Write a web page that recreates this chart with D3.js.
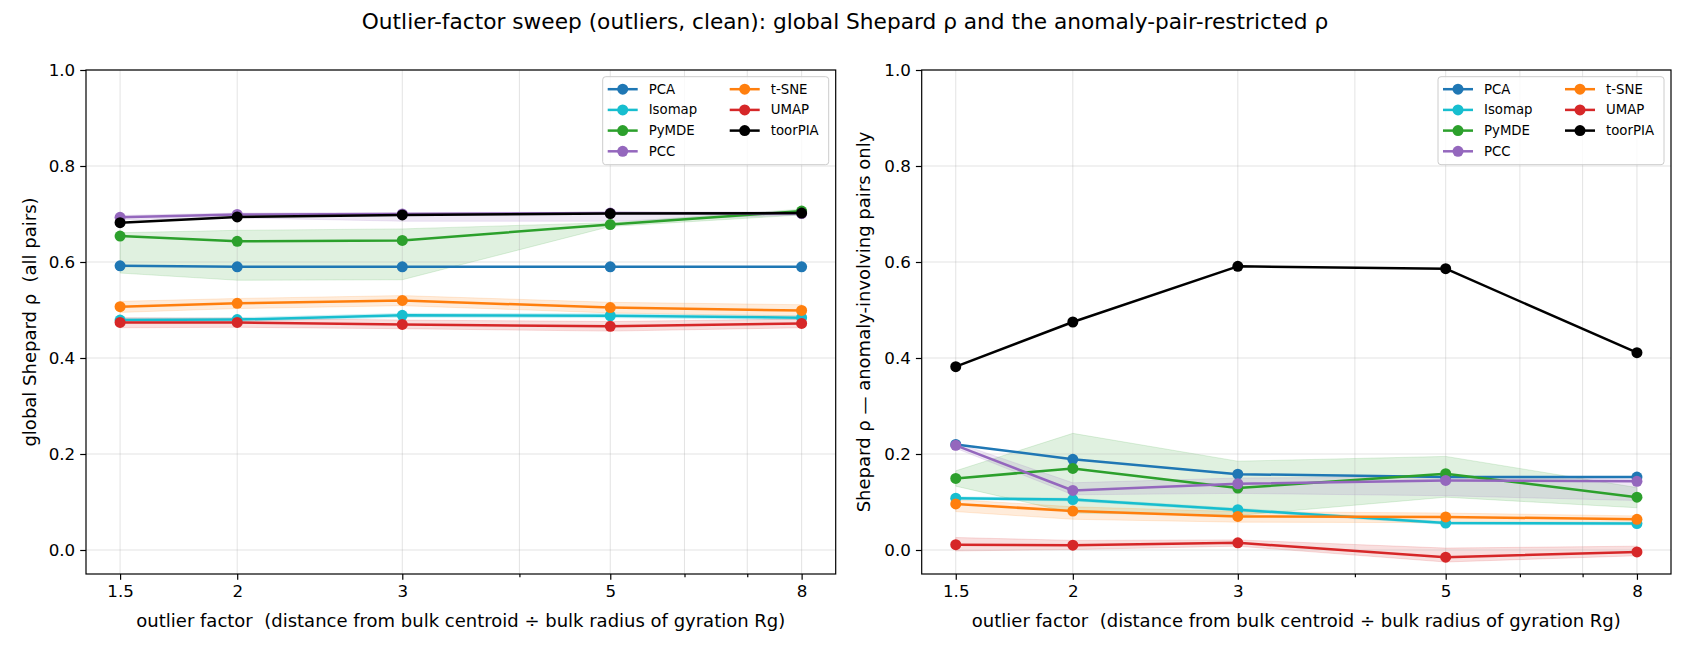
<!DOCTYPE html>
<html lang="en">
<head>
  <meta charset="UTF-8">
  <title>Outlier-factor sweep</title>
  <script src="https://d3js.org/d3.v7.min.js"></script>
  <style>
    body { margin: 0; background: #fff; font-family: 'DejaVu Sans', sans-serif; }
    .tick text { font-family: 'DejaVu Sans', sans-serif; }
    .lbl { white-space: pre; }
  </style>
</head>
<body>
  <div id="chart"></div>
  <script>
    // data
    const factors = [1.5, 2, 3, 5, 8];
    const factorLabels = ["1.5", "2", "3", "5", "8"];
    const minorFactors = [4, 6, 7];
    const gridFactors = [1.5, 2, 3, 4, 5, 6, 7, 8];
    const yTicks = [0.0, 0.2, 0.4, 0.6, 0.8, 1.0];
    const methods = ["PCA", "Isomap", "PyMDE", "PCC", "t-SNE", "UMAP", "toorPIA"];
    const colors = ["#1f77b4", "#17becf", "#2ca02c", "#9467bd", "#ff7f0e", "#d62728", "#000000"];

    const globalMean = [
      [0.592, 0.590, 0.590, 0.590, 0.590],
      [0.479, 0.480, 0.489, 0.488, 0.484],
      [0.654, 0.643, 0.645, 0.678, 0.706],
      [0.693, 0.699, 0.700, 0.702, 0.701],
      [0.507, 0.514, 0.520, 0.505, 0.499],
      [0.474, 0.474, 0.470, 0.466, 0.472],
      [0.682, 0.694, 0.698, 0.701, 0.702]
    ];
    const globalLo = [
      null,
      [0.475, 0.476, 0.485, 0.484, 0.480],
      [0.577, 0.562, 0.563, 0.674, 0.698],
      [0.688, 0.692, 0.685, 0.685, 0.698],
      [0.495, 0.503, 0.509, 0.494, 0.487],
      [0.463, 0.464, 0.461, 0.456, 0.463],
      null
    ];
    const globalHi = [
      null,
      [0.483, 0.484, 0.493, 0.492, 0.488],
      [0.661, 0.666, 0.669, 0.682, 0.710],
      [0.697, 0.702, 0.703, 0.704, 0.705],
      [0.518, 0.524, 0.530, 0.516, 0.511],
      [0.484, 0.483, 0.479, 0.476, 0.481],
      null
    ];

    const anomalyMean = [
      [0.220, 0.189, 0.158, 0.152, 0.152],
      [0.108, 0.105, 0.084, 0.056, 0.055],
      [0.149, 0.170, 0.129, 0.159, 0.110],
      [0.218, 0.124, 0.138, 0.145, 0.143],
      [0.096, 0.081, 0.070, 0.069, 0.064],
      [0.011, 0.010, 0.015, -0.015, -0.004],
      [0.382, 0.475, 0.591, 0.586, 0.411]
    ];
    const anomalyLo = [
      null,
      [0.105, 0.102, 0.081, 0.053, 0.052],
      [0.133, 0.077, 0.072, 0.110, 0.088],
      [0.212, 0.115, 0.118, 0.113, 0.103],
      [0.080, 0.064, 0.058, 0.057, 0.055],
      [-0.002, 0.001, 0.008, -0.025, -0.012],
      null
    ];
    const anomalyHi = [
      null,
      [0.111, 0.108, 0.087, 0.059, 0.058],
      [0.165, 0.243, 0.185, 0.195, 0.130],
      [0.224, 0.140, 0.150, 0.152, 0.148],
      [0.105, 0.090, 0.080, 0.077, 0.071],
      [0.026, 0.020, 0.021, 0.004, 0.008],
      null
    ];

    const W = 1690, H = 650;
    const plotTop = 70, plotBottom = 574;

    const svg = d3.select("#chart").append("svg")
      .attr("width", W).attr("height", H)
      .style("font-family", "'DejaVu Sans', sans-serif");

    svg.append("text")
      .attr("x", W / 2).attr("y", 29)
      .attr("text-anchor", "middle")
      .style("font-size", "21.7px")
      .text("Outlier-factor sweep (outliers, clean): global Shepard \u03c1 and the anomaly-pair-restricted \u03c1");

    // 5% margin in log space, like matplotlib
    const lnSpan = Math.log(8) - Math.log(1.5);
    const xDomain = [Math.exp(Math.log(1.5) - 0.05 * lnSpan), Math.exp(Math.log(8) + 0.05 * lnSpan)];

    function drawPanel(left, right, means, los, his, ylabel, ylabelX) {
      const x = d3.scaleLog().domain(xDomain).range([left, right]);
      const y = d3.scaleLinear().domain([-0.05, 1.0]).range([plotBottom, plotTop]);
      const g = svg.append("g");

      // bands
      const area = d3.area()
        .x((d, i) => x(factors[i]))
        .y0(d => y(d[0]))
        .y1(d => y(d[1]));
      methods.forEach((m, k) => {
        if (!los[k]) return;
        const pts = los[k].map((v, i) => [v, his[k][i]]);
        g.append("path")
          .attr("d", area(pts))
          .attr("fill", colors[k])
          .attr("fill-opacity", 0.15)
          .attr("stroke", colors[k])
          .attr("stroke-opacity", 0.15)
          .attr("stroke-width", 1);
      });

      // grid
      g.append("g").selectAll("line").data(gridFactors).join("line")
        .attr("x1", d => x(d)).attr("x2", d => x(d))
        .attr("y1", plotTop).attr("y2", plotBottom)
        .attr("stroke", "#b0b0b0").attr("stroke-opacity", 0.35).attr("stroke-width", 1);
      g.append("g").selectAll("line").data(yTicks).join("line")
        .attr("x1", left).attr("x2", right)
        .attr("y1", d => y(d)).attr("y2", d => y(d))
        .attr("stroke", "#b0b0b0").attr("stroke-opacity", 0.35).attr("stroke-width", 1);

      // lines + markers
      const line = d3.line().x((d, i) => x(factors[i])).y(d => y(d));
      methods.forEach((m, k) => {
        g.append("path")
          .attr("d", line(means[k]))
          .attr("fill", "none")
          .attr("stroke", colors[k])
          .attr("stroke-width", 2.5)
          .attr("stroke-linejoin", "round");
        g.append("g").selectAll("circle").data(means[k]).join("circle")
          .attr("cx", (d, i) => x(factors[i]))
          .attr("cy", d => y(d))
          .attr("r", 5.5)
          .attr("fill", colors[k]);
      });

      // axes
      const xAxis = g.append("g")
        .attr("transform", `translate(0,${plotBottom})`)
        .call(d3.axisBottom(x).tickValues(factors)
          .tickFormat((d, i) => factorLabels[i]).tickSize(5.8).tickPadding(5));
      const xMinor = g.append("g")
        .attr("transform", `translate(0,${plotBottom})`)
        .call(d3.axisBottom(x).tickValues(minorFactors).tickFormat("").tickSize(3.3));
      const yAxis = g.append("g")
        .attr("transform", `translate(${left},0)`)
        .call(d3.axisLeft(y).tickValues(yTicks).tickFormat(d3.format(".1f")).tickSize(5.8).tickPadding(5));
      [xAxis, xMinor, yAxis].forEach(a => {
        a.select(".domain").remove();
        a.selectAll("line").attr("stroke", "#000").attr("stroke-width", 1.2);
        a.selectAll("text").style("font-size", "16.7px").attr("fill", "#000");
      });

      // frame
      g.append("rect")
        .attr("x", left).attr("y", plotTop)
        .attr("width", right - left).attr("height", plotBottom - plotTop)
        .attr("fill", "none").attr("stroke", "#000").attr("stroke-width", 1.2);

      // labels
      g.append("text")
        .attr("class", "lbl")
        .attr("x", (left + right) / 2).attr("y", 627)
        .attr("text-anchor", "middle")
        .style("font-size", "18px")
        .text("outlier factor  (distance from bulk centroid \u00f7 bulk radius of gyration Rg)");
      g.append("text")
        .attr("class", "lbl")
        .attr("transform", `translate(${ylabelX},${(plotTop + plotBottom) / 2}) rotate(-90)`)
        .attr("text-anchor", "middle")
        .attr("dominant-baseline", "central")
        .style("font-size", "18px")
        .text(ylabel);

      // legend
      const lw = 226, lh = 88;
      const lx = right - 7 - lw, ly = plotTop + 6.7;
      const leg = g.append("g");
      leg.append("rect")
        .attr("x", lx).attr("y", ly).attr("width", lw).attr("height", lh)
        .attr("rx", 3)
        .attr("fill", "#fff").attr("fill-opacity", 0.8)
        .attr("stroke", "#cccccc").attr("stroke-width", 1);
      methods.forEach((m, k) => {
        const col = k < 4 ? 0 : 1;
        const row = k < 4 ? k : k - 4;
        const hx = lx + 5 + col * 122;
        const hy = ly + 12.5 + row * 20.7;
        leg.append("line")
          .attr("x1", hx).attr("x2", hx + 30)
          .attr("y1", hy).attr("y2", hy)
          .attr("stroke", colors[k]).attr("stroke-width", 2.5);
        leg.append("circle")
          .attr("cx", hx + 15).attr("cy", hy).attr("r", 5.5)
          .attr("fill", colors[k]);
        leg.append("text")
          .attr("x", hx + 41).attr("y", hy)
          .attr("dominant-baseline", "central")
          .style("font-size", "13.3px")
          .text(m);
      });
    }

    drawPanel(86, 835.7, globalMean, globalLo, globalHi,
      "global Shepard \u03c1  (all pairs)", 29);
    drawPanel(921.7, 1671, anomalyMean, anomalyLo, anomalyHi,
      "Shepard \u03c1 \u2014 anomaly-involving pairs only", 863);
  </script>
</body>
</html>
